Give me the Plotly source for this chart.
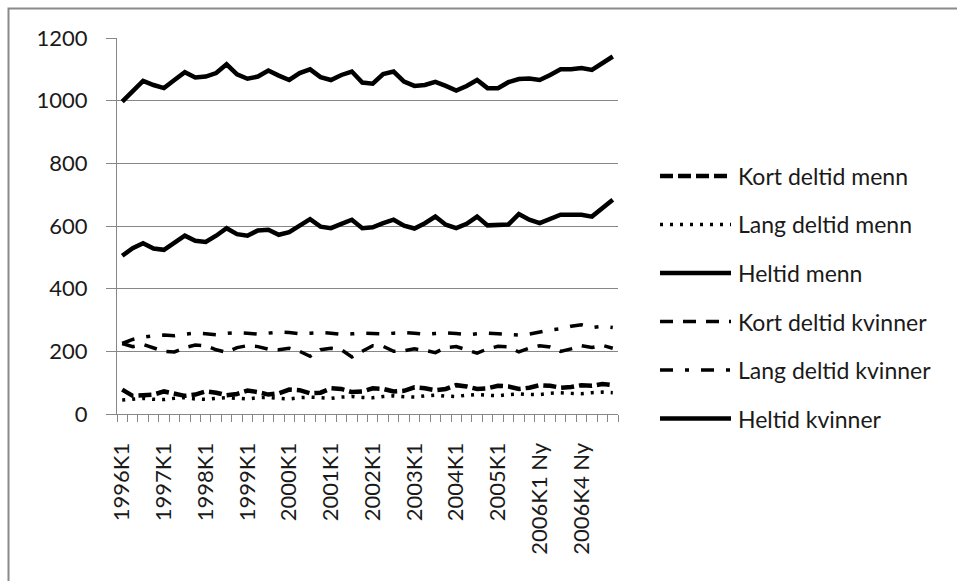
import plotly.graph_objects as go

# Quarterly categories (tick labels shown every fourth quarter)
quarters = (
    [f"{y}K{q}" for y in range(1996, 2006) for q in range(1, 5)]
    + ["2006K1 Ny", "2006K2 Ny", "2006K3 Ny", "2006K4", "2006K4 Ny",
       "2007K1 Ny", "2007K2 Ny", "2007K3 Ny"]
)

kort_deltid_menn = [78, 58, 60, 62, 72, 66, 58, 62, 72, 68, 60, 64, 75, 70, 62, 66,
                    78, 76, 66, 68, 82, 80, 70, 72, 82, 80, 72, 74, 85, 82, 76, 80,
                    92, 88, 80, 82, 90, 88, 80, 84, 92, 90, 84, 86, 92, 90, 96, 92]
lang_deltid_menn = [45, 48, 50, 47, 46, 50, 52, 48, 47, 50, 52, 50, 48, 52, 53, 50,
                    48, 52, 54, 52, 50, 54, 56, 53, 52, 56, 58, 55, 54, 58, 60, 57,
                    56, 60, 62, 60, 58, 62, 64, 62, 62, 66, 68, 66, 65, 68, 70, 68]
heltid_menn = [997, 1030, 1063, 1050, 1040, 1066, 1091, 1074, 1077, 1088, 1116, 1084,
               1070, 1077, 1096, 1080, 1066, 1088, 1100, 1075, 1066, 1082, 1093, 1058,
               1054, 1085, 1093, 1061, 1047, 1050, 1060, 1047, 1032, 1047, 1066, 1040,
               1040, 1059, 1069, 1071, 1066, 1082, 1100, 1100, 1104, 1098, 1120, 1141]
kort_deltid_kvinner = [225, 215, 222, 210, 200, 198, 212, 220, 218, 205, 197, 212,
                       218, 215, 207, 205, 210, 200, 184, 205, 210, 205, 182, 200,
                       218, 216, 200, 202, 208, 203, 196, 212, 215, 205, 194, 208,
                       216, 214, 198, 210, 218, 214, 200, 208, 218, 212, 219, 210]
lang_deltid_kvinner = [225, 238, 245, 250, 252, 250, 255, 258, 256, 253, 257, 260,
                       258, 255, 258, 262, 260, 256, 258, 260, 258, 254, 256, 258,
                       257, 255, 258, 260, 258, 254, 257, 259, 257, 253, 256, 258,
                       256, 254, 252, 255, 262, 268, 272, 280, 285, 276, 280, 276]
heltid_kvinner = [505, 529, 545, 528, 524, 547, 569, 553, 549, 569, 593, 574,
                  569, 586, 588, 572, 580, 601, 622, 598, 593, 607, 620, 593,
                  596, 609, 620, 601, 592, 609, 630, 604, 593, 607, 630, 602,
                  602, 605, 638, 620, 609, 623, 636, 636, 636, 630, 657, 684]

series_names = ["Kort deltid menn", "Lang deltid menn", "Heltid menn",
                "Kort deltid kvinner", "Lang deltid kvinner", "Heltid kvinner"]
series_values = [kort_deltid_menn, lang_deltid_menn, heltid_menn,
                 kort_deltid_kvinner, lang_deltid_kvinner, heltid_kvinner]
series_styles = [
    dict(width=4.5, dash="13px,5px"),
    dict(width=3.5, dash="3px,7px"),
    dict(width=4.5, dash="solid"),
    dict(width=3.5, dash="13px,10px"),
    dict(width=3.5, dash="13px,12px,4px,12px"),
    dict(width=4.5, dash="solid"),
]

FONT = "Lato, 'Open Sans', sans-serif"
TEXT = "#1a1a1a"
GRID = "#878787"

W, H = 957, 581
ML, MR, MT, MB = 117, 339, 38, 167
PW, PH = W - ML - MR, H - MT - MB


def px_x(px):
    return (px - ML) / PW


def px_y(py):
    return (H - MB - py) / PH


xs = list(range(len(quarters)))
fig = go.Figure()
for name, vals, st in zip(series_names, series_values, series_styles):
    fig.add_trace(go.Scatter(
        x=xs, y=vals, name=name, mode="lines",
        line=dict(color="black", width=st["width"], dash=st["dash"]),
        showlegend=False,
    ))

shapes = []
annotations = []

# Legend drawn to the right of the plot
leg_x0, leg_x1, leg_text = 660, 731, 736
leg_y0, leg_dy = 176, 48.5
for k, (name, st) in enumerate(zip(series_names, series_styles)):
    yy = leg_y0 + k * leg_dy
    shapes.append(dict(
        type="line", xref="paper", yref="paper",
        x0=px_x(leg_x0), x1=px_x(leg_x1), y0=px_y(yy), y1=px_y(yy),
        line=dict(color="black", width=st["width"], dash=st["dash"]),
    ))
    annotations.append(dict(
        text=name, xref="paper", yref="paper", x=px_x(leg_text), y=px_y(yy),
        xanchor="left", yanchor="middle", showarrow=False,
        font=dict(family=FONT, size=23, color=TEXT),
    ))

# Chart frame
shapes.append(dict(
    type="rect", xref="paper", yref="paper",
    x0=px_x(8.5), x1=px_x(W + 20), y0=px_y(H + 20), y1=px_y(8.5),
    line=dict(color="#8a8a8a", width=2), layer="below",
))

tick_idx = list(range(0, len(quarters), 4))
fig.update_layout(
    width=W, height=H,
    margin=dict(l=ML, r=MR, t=MT, b=MB, pad=0),
    paper_bgcolor="white", plot_bgcolor="white",
    shapes=shapes, annotations=annotations,
    xaxis=dict(
        range=[-0.5, len(quarters) - 0.5],
        tickmode="array", tickvals=tick_idx,
        ticktext=[quarters[i] for i in tick_idx],
        tickangle=-90, ticks="", showgrid=False, zeroline=False,
        showline=True, linecolor=GRID, linewidth=1,
        tickfont=dict(family=FONT, size=22, color=TEXT),
        ticklabelstandoff=19,
        minor=dict(tickmode="array",
                   tickvals=[i - 0.5 for i in range(len(quarters) + 1)],
                   ticks="outside", ticklen=7, tickcolor=GRID, tickwidth=1,
                   showgrid=False),
    ),
    yaxis=dict(
        range=[0, 1200], tickmode="array", tickvals=[0, 200, 400, 600, 800, 1000, 1200],
        showgrid=True, gridcolor=GRID, gridwidth=1, zeroline=False,
        showline=True, linecolor=GRID, linewidth=1,
        ticks="outside", ticklen=10, tickcolor=GRID,
        tickfont=dict(family=FONT, size=22, color=TEXT),
        ticklabelstandoff=14,
    ),
)

fig.write_html("out.html")
